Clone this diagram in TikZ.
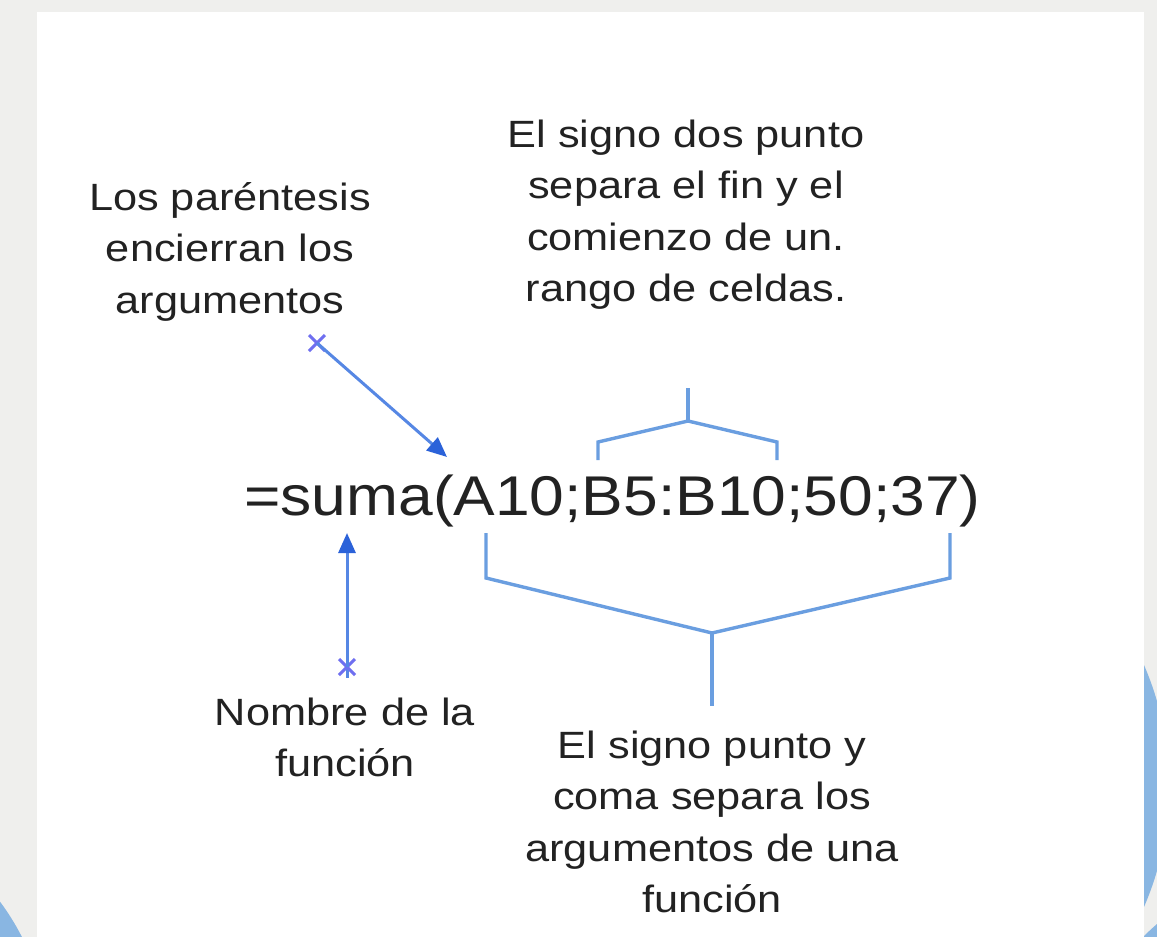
\documentclass[tikz,border=0pt]{standalone}
\usepackage{fontspec}
\setmainfont{Liberation Sans}
\usetikzlibrary{arrows.meta,calc}
\definecolor{bg}{HTML}{EFEFED}
\definecolor{circ}{HTML}{89B6E2}
\definecolor{txt}{HTML}{222222}
\definecolor{brk}{HTML}{6A9EE0}
\definecolor{arr}{HTML}{5687E4}
\definecolor{tip}{HTML}{2B62D9}
\definecolor{crs}{HTML}{6F6FF0}
\tikzset{
  lbl/.style={font=\fontsize{38}{51.5}\selectfont, text=txt, align=center, inner sep=0pt, xscale=1.14},
  formula/.style={font=\fontsize{56}{60}\selectfont, text=txt, inner sep=0pt, xscale=1.113},
  bracket/.style={draw=brk, line width=3.4pt, line join=miter},
  pointer/.style={draw=arr, line width=3pt, -{Triangle[length=20pt,width=17pt,color=tip]}},
  crossmark/.style={draw=crs, line width=3pt}
}
\begin{document}
\begin{tikzpicture}[x=1pt,y=1pt]
\useasboundingbox (0,0) rectangle (1157,-937);
% background
\fill[bg] (0,0) rectangle (1157,-937);
\begin{scope}
\clip (0,0) rectangle (1157,-937);
\fill[circ] (865,-786) circle (304);
\fill[circ] (-200,-1050) circle (249);
\fill[circ] (1290,-1080) circle (205);
\end{scope}
\fill[white] (37,-12) rectangle (1144,-937);

% texts (anchor=base is the baseline of the last line)
\node[formula, anchor=base west] (f) at (244,-515) {=suma(A10;B5:B10;50;37)};
\node[lbl, anchor=base] (par) at (230,-313) {Los paréntesis\\encierran los\\argumentos};
\node[lbl, anchor=base] (dos) at (686,-301.5) {El signo dos punto\\separa el fin y el\\comienzo de un.\\rango de celdas.};
\node[lbl, anchor=base] (nom) at (345,-776.5) {Nombre de la\\función};
\node[lbl, anchor=base] (pyc) at (712,-912.5) {El signo punto y\\coma separa los\\argumentos de una\\función};

% arrow: parentheses
\coordinate (c1) at (317,-343);
\coordinate (t1) at (447,-457);
\draw[crossmark] ($(c1)+(-8,8)$) -- ($(c1)+(8,-8)$) ($(c1)+(-8,-8)$) -- ($(c1)+(8,8)$);
\draw[pointer] (c1) -- (t1);

% arrow: function name
\coordinate (c2) at (347,-667);
\coordinate (t2) at (347,-533);
\draw[draw=arr, line width=3pt] (c2) -- ++(0,-11);
\draw[crossmark] ($(c2)+(-8,8)$) -- ($(c2)+(8,-8)$) ($(c2)+(-8,-8)$) -- ($(c2)+(8,8)$);
\draw[pointer] (c2) -- (t2);

% upper bracket (colon)
\coordinate (u0) at (688,-388);
\coordinate (um) at (688,-421);
\coordinate (ul) at (598,-442);
\coordinate (ur) at (777,-442);
\draw[bracket] (u0) -- (um);
\draw[bracket] (598,-460) -- (ul) -- (um) -- (ur) -- (777,-460);

% lower bracket (semicolons)
\coordinate (lm) at (712,-633);
\coordinate (l0) at (712,-706);
\draw[bracket] (486,-533) -- (486,-578) -- (lm) -- (950,-578) -- (950,-533);
\draw[bracket] (lm) -- (l0);
\end{tikzpicture}
\end{document}
